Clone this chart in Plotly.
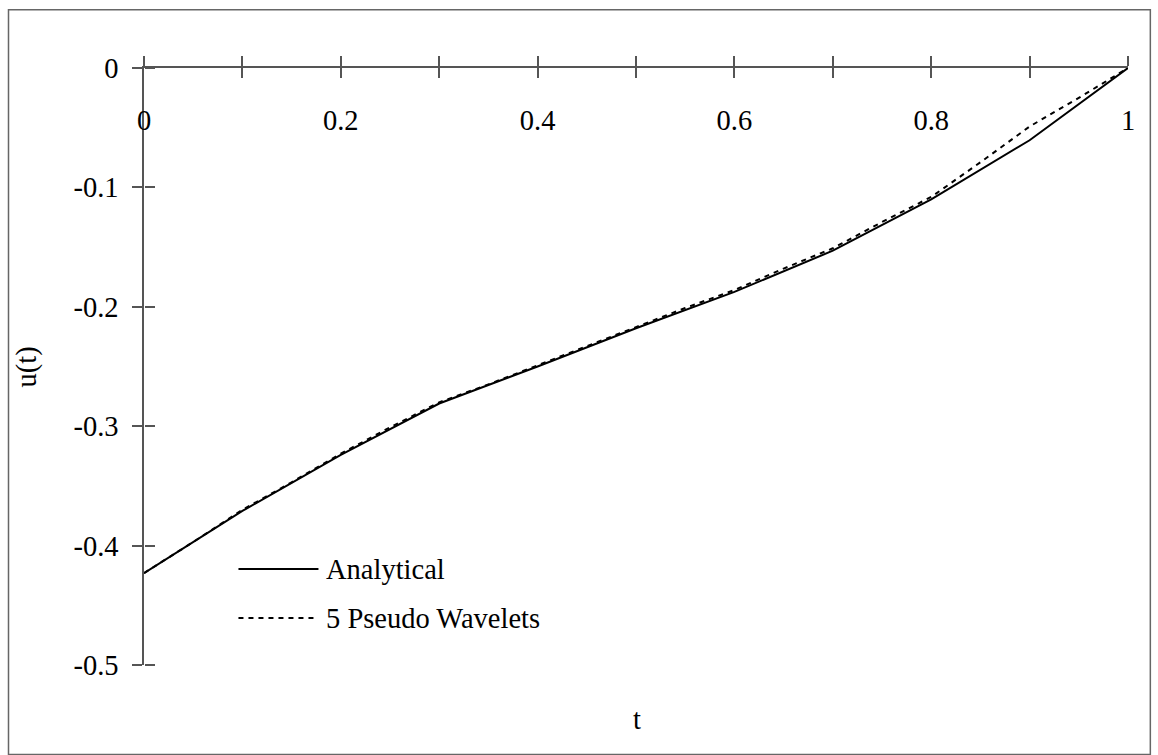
import plotly.graph_objects as go

# ---- data ----
t_analytical = [0.0, 0.1, 0.2, 0.3, 0.4, 0.5, 0.6, 0.7, 0.8, 0.9, 1.0]
u_analytical = [-0.423, -0.371, -0.324, -0.281, -0.250, -0.218, -0.1875, -0.153, -0.110, -0.0605, 0.0]

t_wavelet = [0.0, 0.05, 0.1, 0.15, 0.2, 0.25, 0.3, 0.35, 0.4, 0.45, 0.5,
             0.55, 0.6, 0.65, 0.7, 0.75, 0.8, 0.85, 0.9, 0.95, 1.0]
u_wavelet = [-0.423, -0.397, -0.370, -0.347, -0.323, -0.301, -0.280, -0.265, -0.249, -0.233, -0.217,
             -0.201, -0.186, -0.168, -0.151, -0.129, -0.108, -0.079, -0.049, -0.025, 0.0]

x_tick_minor = [0.0, 0.1, 0.2, 0.3, 0.4, 0.5, 0.6, 0.7, 0.8, 0.9, 1.0]
x_tick_vals = [0.0, 0.2, 0.4, 0.6, 0.8, 1.0]
x_tick_text = ["0", "0.2", "0.4", "0.6", "0.8", "1"]
y_tick_vals = [0.0, -0.1, -0.2, -0.3, -0.4, -0.5]
y_tick_text = ["0", "-0.1", "-0.2", "-0.3", "-0.4", "-0.5"]
series_names = ["Analytical", "5 Pseudo Wavelets"]

FONT = "Liberation Serif"
AX = "#555555"
FS = 28.5
DOT = "5px,5px"

fig = go.Figure()
fig.add_trace(go.Scatter(x=t_analytical, y=u_analytical, mode="lines", name=series_names[0],
                         line=dict(color="black", width=2), showlegend=False))
fig.add_trace(go.Scatter(x=t_wavelet, y=u_wavelet, mode="lines", name=series_names[1],
                         line=dict(color="black", width=2, dash=DOT), showlegend=False))

common = dict(range=[0, 1], showgrid=False, zeroline=False, fixedrange=True)
ycommon = dict(range=[-0.5, 0], showgrid=False, zeroline=False, fixedrange=True)
fig.update_layout(
    width=1158, height=755,
    margin=dict(l=143.5, r=30.3, t=67.7, b=90),
    paper_bgcolor="white", plot_bgcolor="white",
    font=dict(family=FONT, size=FS, color="black"),
    xaxis=dict(**common, side="top", showline=True, linecolor=AX, linewidth=1.5,
               ticks="outside", ticklen=10, tickcolor=AX, tickwidth=1.5,
               tickvals=x_tick_minor, showticklabels=False),
    xaxis2=dict(**common, overlaying="x", anchor="y", side="top", showline=False,
                ticks="inside", ticklen=10, tickcolor=AX, tickwidth=1.5,
                tickvals=x_tick_minor, showticklabels=False),
    xaxis3=dict(**common, overlaying="x", anchor="free", position=0.946, side="bottom",
                showline=False, ticks="", tickvals=x_tick_vals, ticktext=x_tick_text,
                tickfont=dict(family=FONT, size=FS, color="black")),
    yaxis=dict(**ycommon, showline=True, linecolor=AX, linewidth=1.5,
               ticks="outside", ticklen=10, tickcolor=AX, tickwidth=1.5,
               tickvals=y_tick_vals, ticktext=y_tick_text,
               tickfont=dict(family=FONT, size=FS, color="black"), ticklabelstandoff=8),
    yaxis2=dict(**ycommon, overlaying="y", anchor="free", position=0, side="right",
                showline=False, ticks="outside", ticklen=10, tickcolor=AX, tickwidth=1.5,
                tickvals=y_tick_vals, showticklabels=False),
    showlegend=False,
)
# empty traces so the overlay axes get drawn
fig.add_trace(go.Scatter(x=[None], y=[None], xaxis="x2", yaxis="y", showlegend=False, hoverinfo="skip"))
fig.add_trace(go.Scatter(x=[None], y=[None], xaxis="x", yaxis="y2", showlegend=False, hoverinfo="skip"))
fig.add_trace(go.Scatter(x=[None], y=[None], xaxis="x3", yaxis="y", showlegend=False, hoverinfo="skip"))

# legend (long sample lines as in the original)
leg_y = [0.1607, 0.0787]
leg_dash = ["solid", DOT]
for name, yy, dash in zip(series_names, leg_y, leg_dash):
    fig.add_shape(type="line", xref="paper", yref="paper", x0=0.096, x1=0.1773, y0=yy, y1=yy,
                  line=dict(color="black", width=2, dash=dash))
    fig.add_annotation(text=name, xref="paper", yref="paper", x=0.1834, y=yy, showarrow=False,
                       xanchor="left", yanchor="middle",
                       font=dict(family=FONT, size=FS, color="black"))

fig.add_annotation(text="t", xref="paper", yref="paper", x=0.501, y=-0.092, showarrow=False,
                   font=dict(family=FONT, size=FS, color="black"), xanchor="center", yanchor="middle")
fig.add_annotation(text="u(t)", xref="paper", yref="paper", x=-0.119, y=0.5, showarrow=False,
                   textangle=-90, font=dict(family=FONT, size=FS, color="black"),
                   xanchor="center", yanchor="middle")
fig.add_shape(type="rect", xref="paper", yref="paper", x0=-0.1377, x1=1.0227, y0=-0.150, y1=1.0975,
              line=dict(color="#666666", width=1.5), layer="below")

fig.write_html("out.html")
